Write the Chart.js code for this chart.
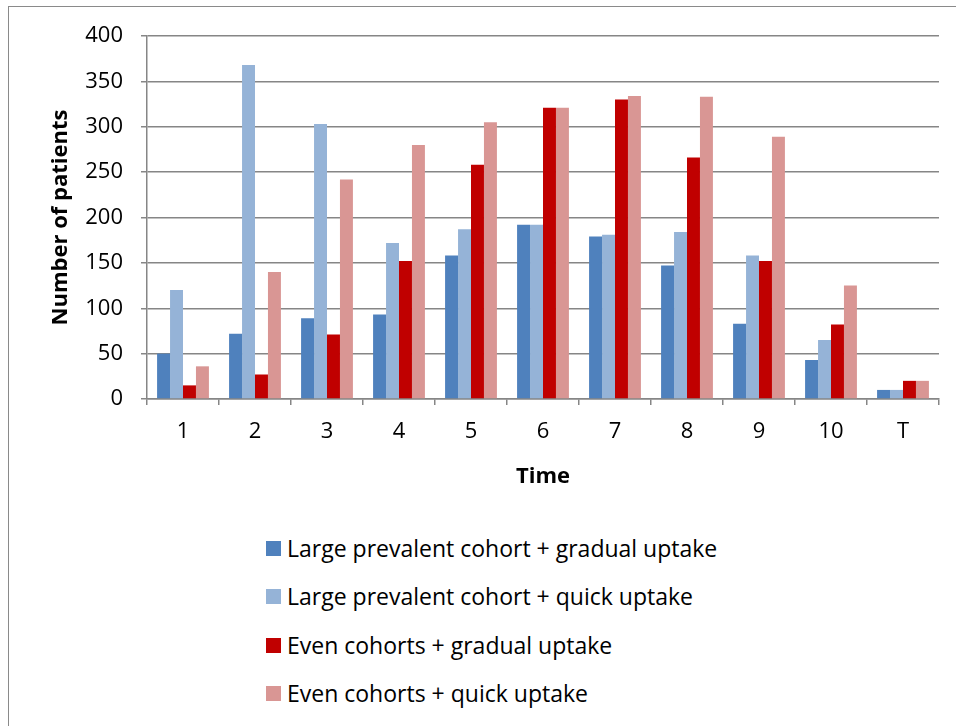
<!DOCTYPE html>
<html>
<head>
<meta charset="utf-8">
<script src="https://cdn.jsdelivr.net/npm/chart.js@4.4.1/dist/chart.umd.min.js"></script>
<style>
  html, body { margin: 0; padding: 0; background: #fff; }
  body { width: 956px; height: 726px; position: relative; overflow: hidden; font-family: "Open Sans", Lato, sans-serif; }
  #frame { position: absolute; left: 8px; top: 6px; width: 948px; height: 720px;
           border-top: 1.5px solid #8a8a8a; border-left: 1.5px solid #8a8a8a; box-sizing: border-box; }
  #wrap { position: absolute; left: 0; top: 0; width: 956px; height: 500px; }
  #legend { position: absolute; left: 266px; top: 534px; margin: 0; padding: 0; list-style: none; }
  #legend li { height: 48.3px; display: flex; align-items: flex-start; font-size: 23px; line-height: 28px; color: #000; white-space: nowrap; }
  #legend .box { width: 15px; height: 15px; margin-top: 7px; margin-right: 6px; flex: none; }
</style>
</head>
<body>
<div id="frame"></div>
<div id="wrap"><canvas id="c"></canvas></div>
<ul id="legend"></ul>
<script>
const categories = ["1", "2", "3", "4", "5", "6", "7", "8", "9", "10", "T"];
const seriesNames = [
  "Large prevalent cohort + gradual uptake",
  "Large prevalent cohort + quick uptake",
  "Even cohorts + gradual uptake",
  "Even cohorts + quick uptake"
];
const largeGradual = [50, 72, 89, 93, 158, 192, 179, 147, 83, 43, 10];
const largeQuick   = [120, 368, 303, 172, 187, 192, 181, 184, 158, 65, 10];
const evenGradual  = [15, 27, 71, 152, 258, 321, 330, 266, 152, 82, 20];
const evenQuick    = [36, 140, 242, 280, 305, 321, 334, 333, 289, 125, 20];
const seriesColors = ["#4F81BD", "#95B3D7", "#C00000", "#D99694"];
const yTicks = [0, 50, 100, 150, 200, 250, 300, 350, 400];

const values = [largeGradual, largeQuick, evenGradual, evenQuick];
const gridColor = "#868686";
const fontFamily = "'Open Sans', Lato, sans-serif";

const chart = new Chart(document.getElementById("c"), {
  type: "bar",
  data: {
    labels: categories,
    datasets: values.map((v, i) => ({
      label: seriesNames[i],
      data: v,
      backgroundColor: seriesColors[i],
      borderWidth: 0,
      categoryPercentage: 0.72,
      barPercentage: 1.0
    }))
  },
  options: {
    responsive: true,
    maintainAspectRatio: false,
    animation: false,
    events: [],
    layout: { padding: { top: 36, right: 17, left: 0, bottom: 0 } },
    plugins: { legend: { display: false }, tooltip: { enabled: false } },
    scales: {
      x: {
        grid: { offset: true, drawOnChartArea: false, drawTicks: true, tickLength: 6, color: gridColor, lineWidth: 1.5 },
        border: { color: gridColor, width: 1.5 },
        ticks: { color: "#000", font: { family: fontFamily, size: 22 }, padding: 14 },
        title: { display: true, text: "Time", color: "#000", font: { family: fontFamily, size: 22, weight: "bold" }, padding: { top: 0, bottom: 10 } },
        afterFit: s => { s.height = 101; }
      },
      y: {
        min: 0, max: 400,
        afterBuildTicks: s => { s.ticks = yTicks.map(v => ({ value: v })); },
        grid: { color: gridColor, lineWidth: 1.5, drawTicks: true, tickLength: 6 },
        border: { color: gridColor, width: 1.5 },
        ticks: { color: "#000", font: { family: fontFamily, size: 22 }, padding: 18 },
        title: { display: true, text: "Number of patients", color: "#000", font: { family: fontFamily, size: 22, weight: "bold" }, padding: { top: 48, bottom: 0 } },
        afterFit: s => { s.width = 147; }
      }
    }
  }
});

const legend = document.getElementById("legend");
seriesNames.forEach((name, i) => {
  const li = document.createElement("li");
  const box = document.createElement("span");
  box.className = "box";
  box.style.background = seriesColors[i];
  const txt = document.createElement("span");
  txt.textContent = name;
  li.appendChild(box);
  li.appendChild(txt);
  legend.appendChild(li);
});
</script>
</body>
</html>
